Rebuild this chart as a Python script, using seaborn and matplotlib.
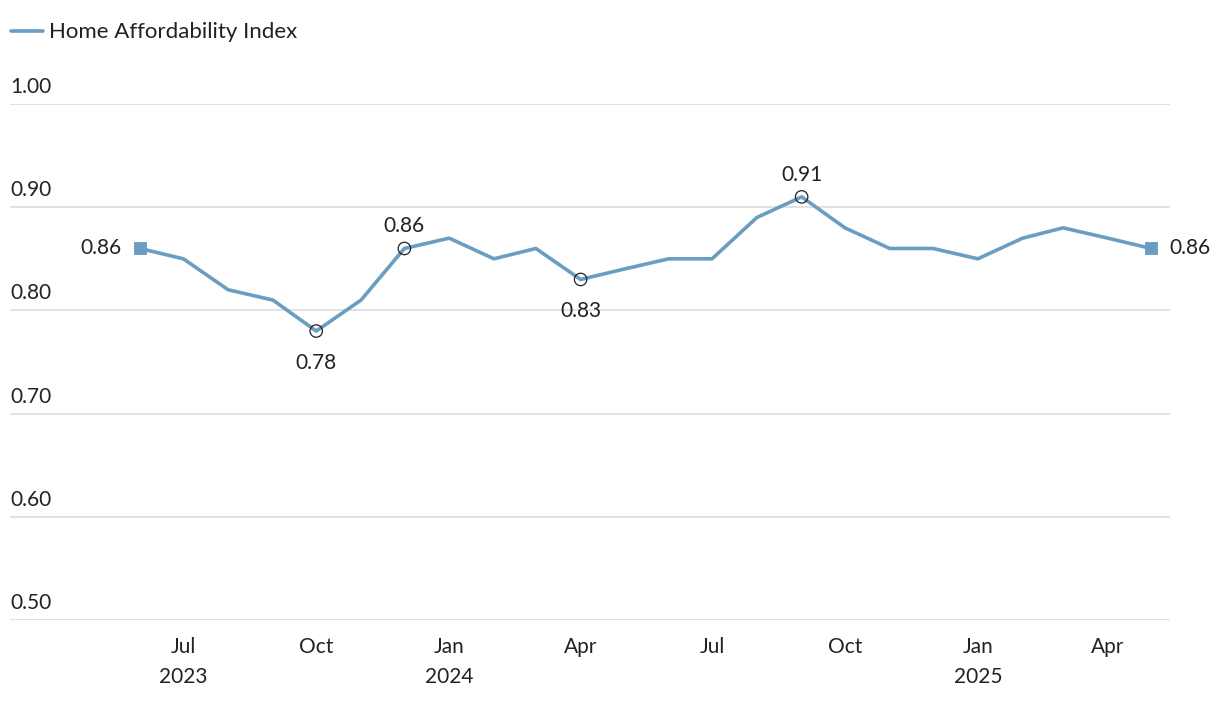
import pandas as pd
import seaborn as sns
import matplotlib.pyplot as plt
import matplotlib.transforms as mtransforms

# %% data
months = pd.date_range('2023-06-01', '2025-05-01', freq='MS')
index_values = [0.86, 0.85, 0.82, 0.81, 0.78, 0.81, 0.86, 0.87, 0.85, 0.86, 0.83, 0.84,
                0.85, 0.85, 0.89, 0.91, 0.88, 0.86, 0.86, 0.85, 0.87, 0.88, 0.87, 0.86]
series_name = 'Home Affordability Index'
y_ticks = [0.50, 0.60, 0.70, 0.80, 0.90, 1.00]
x_tick_dates = pd.to_datetime(['2023-07-01', '2023-10-01', '2024-01-01', '2024-04-01',
                               '2024-07-01', '2024-10-01', '2025-01-01', '2025-04-01'])
x_tick_labels = ['Jul\n2023', 'Oct', 'Jan\n2024', 'Apr', 'Jul', 'Oct', 'Jan\n2025', 'Apr']
# highlighted points: (month, label above?)
circled = [('2023-10-01', False), ('2023-12-01', True), ('2024-04-01', False), ('2024-09-01', True)]

df = pd.DataFrame({'month': months, 'value': index_values})

sns.set_style('white')
plt.rcParams['font.family'] = ['Lato', 'DejaVu Sans']
color = '#6a9ec0'
txt = '#222222'

fig = plt.figure(figsize=(12.2, 7.02), dpi=100)
ax = fig.add_axes([10/1220, (702-620)/702, 1160/1220, 516/702])

sns.lineplot(data=df, x='month', y='value', color=color, linewidth=2.6, ax=ax,
             label=series_name)

# end squares
ends = df.iloc[[0, -1]]
sns.scatterplot(data=ends, x='month', y='value', marker='s', s=70, color=color,
                edgecolor=color, ax=ax, legend=False, zorder=4)

# circled points
circ = df[df['month'].isin(pd.to_datetime([c[0] for c in circled]))]
ax.scatter(circ['month'], circ['value'], s=80, facecolor='none', edgecolor='#222222',
           linewidth=0.9, zorder=5)

for m, above in circled:
    v = df.loc[df['month'] == pd.Timestamp(m), 'value'].iloc[0]
    ax.annotate(f'{v:.2f}', (pd.Timestamp(m), v), xytext=(0, 16 if above else -23),
                textcoords='offset points', ha='center', va='center', fontsize=15, color=txt)

first, last = df.iloc[0], df.iloc[-1]
ax.annotate(f"{first['value']:.2f}", (first['month'], first['value']), xytext=(-13, 0),
            textcoords='offset points', ha='right', va='center', fontsize=15, color=txt)
ax.annotate(f"{last['value']:.2f}", (last['month'], last['value']), xytext=(13, 0),
            textcoords='offset points', ha='left', va='center', fontsize=15, color=txt)

# axes
ax.set_xlim(pd.Timestamp('2023-03-03'), pd.Timestamp('2025-05-14'))
ax.set_ylim(0.5, 1.0)
ax.set_yticks(y_ticks)
ax.set_yticklabels([])
ax.tick_params(axis='y', length=0)
ax.grid(axis='y', color='#dddddd', linewidth=1.2)
ax.grid(axis='x', visible=False)
ax.set_axisbelow(True)
trans = mtransforms.blended_transform_factory(ax.transAxes, ax.transData)
for t in y_ticks:
    ax.annotate(f'{t:.2f}', (0, t), xycoords=trans, xytext=(0, 5), textcoords='offset points',
                ha='left', va='bottom', fontsize=15, color=txt)

ax.set_xticks(x_tick_dates)
ax.set_xticklabels(x_tick_labels, fontsize=15, color=txt, linespacing=1.65)
ax.tick_params(axis='x', length=0, pad=12)
ax.set_xlabel('')
ax.set_ylabel('')
sns.despine(ax=ax, left=True, bottom=True)

leg = ax.legend(loc='upper left', bbox_to_anchor=(0.0005, 1.158), frameon=False, fontsize=16,
                handlelength=1.45, handletextpad=0.3, borderaxespad=0, borderpad=0)
for t in leg.get_texts():
    t.set_color(txt)

fig.savefig('out.png', dpi=100)
